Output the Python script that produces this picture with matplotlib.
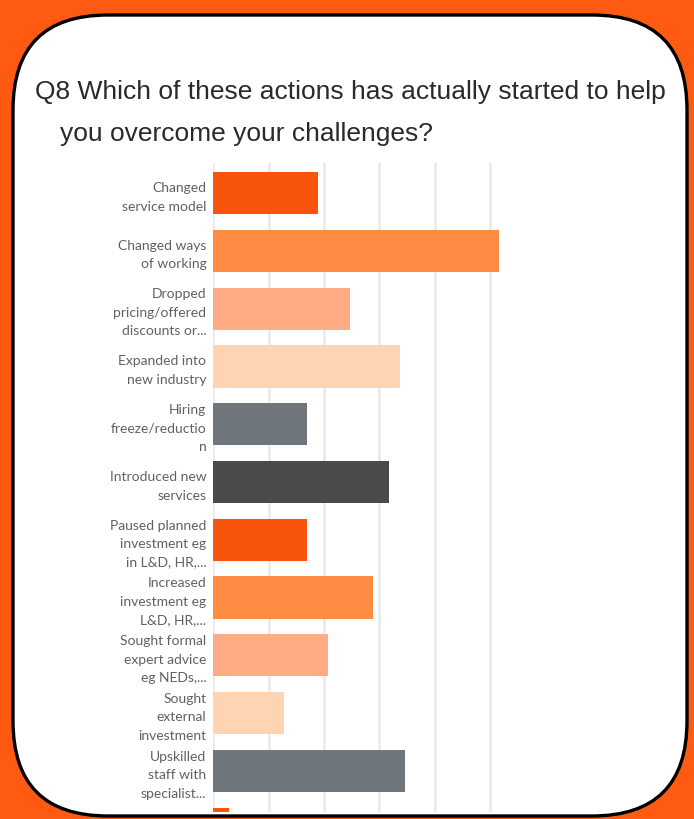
import matplotlib
matplotlib.use('Agg')
import matplotlib.pyplot as plt
from matplotlib.patches import FancyBboxPatch

# survey answers, top to bottom (percent of respondents)
actions = [
    'Changed\nservice model',
    'Changed ways\nof working',
    'Dropped\npricing/offered\ndiscounts or...',
    'Expanded into\nnew industry',
    'Hiring\nfreeze/reductio\nn',
    'Introduced new\nservices',
    'Paused planned\ninvestment eg\nin L&D, HR,...',
    'Increased\ninvestment eg\nL&D, HR,...',
    'Sought formal\nexpert advice\neg NEDs,...',
    'Sought\nexternal\ninvestment',
    'Upskilled\nstaff with\nspecialist...',
    'Other',
]
pct = [18.9, 51.7, 24.8, 33.7, 16.9, 31.8, 16.9, 28.8, 20.7, 12.8, 34.7, 2.8]
colors = ['#F9540D', '#FF8C42', '#FFAB84', '#FFD4B2', '#6F767C', '#4A4A4A',
          '#F9540D', '#FF8C42', '#FFAB84', '#FFD4B2', '#6F767C', '#F9540D']

W, H = 694, 819
fig = plt.figure(figsize=(W / 100, H / 100), dpi=100)
fig.patch.set_facecolor('#FF5A12')

# white rounded card behind everything
bg = fig.add_axes([0, 0, 1, 1])
bg.set_xlim(0, W)
bg.set_ylim(H, 0)
bg.axis('off')
card = FancyBboxPatch((13, 15), 674, 801, boxstyle='round,pad=0,rounding_size=95',
                      facecolor='white', edgecolor='black', linewidth=2.4)
bg.add_patch(card)

bg.text(35, 92, 'Q8 Which of these actions has actually started to help',
        fontsize=19, family='Liberation Sans', color='#2a2a2a', va='center', ha='left')
bg.text(60, 134, 'you overcome your challenges?',
        fontsize=19, family='Liberation Sans', color='#2a2a2a', va='center', ha='left')

# bar chart
left, right = 213.3, 500.9
top, bottom = 163, 812
ax = fig.add_axes([left / W, 1 - bottom / H, (right - left) / W, (bottom - top) / H])
ax.set_facecolor('none')
ax.barh(range(len(pct)), pct, height=0.73, color=colors, zorder=3)
ax.set_xticks([0, 10, 20, 30, 40, 50])
ax.set_xticklabels([])
ax.set_yticks(range(len(actions)))
ax.set_yticklabels(actions, fontsize=10, family='Lato', color='#616161', linespacing=1.65)
ax.set_xlim(0, 52)
ax.set_ylim(10.71, -0.52)
ax.tick_params(axis='both', length=0)
ax.tick_params(axis='y', pad=5)
ax.grid(axis='x', color='#e9e9e9', linewidth=1.8, zorder=0)
for s in ax.spines.values():
    s.set_visible(False)

fig.savefig('out.png', dpi=100, facecolor=fig.get_facecolor())
